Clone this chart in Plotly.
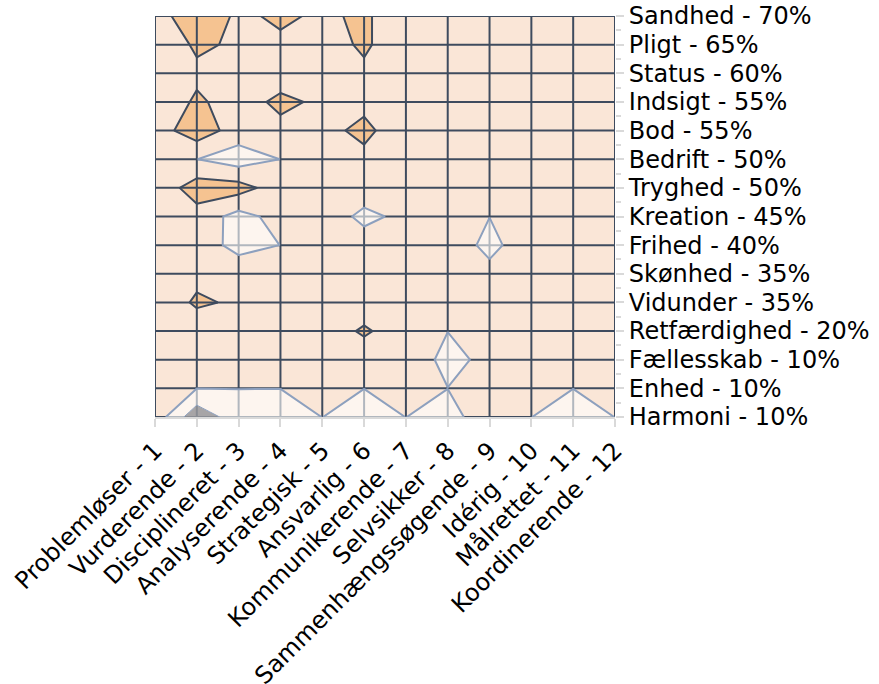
import plotly.graph_objects as go

# Categories (x: roles, y: values shown top -> bottom)
roles = ["Problemløser - 1", "Vurderende - 2", "Disciplineret - 3", "Analyserende - 4",
         "Strategisk - 5", "Ansvarlig - 6", "Kommunikerende - 7", "Selvsikker - 8",
         "Sammenhængssøgende - 9", "Idérig - 10", "Målrettet - 11", "Koordinerende - 12"]
values = ["Sandhed - 70%", "Pligt - 65%", "Status - 60%", "Indsigt - 55%", "Bod - 55%",
          "Bedrift - 50%", "Tryghed - 50%", "Kreation - 45%", "Frihed - 40%",
          "Skønhed - 35%", "Vidunder - 35%", "Retfærdighed - 20%", "Fællesskab - 10%",
          "Enhed - 10%", "Harmoni - 10%"]

# Surface values, one row per value (top -> bottom), one column per role
z = [
    [1.70, 5.00, 2.50, 3.45, 2.59, 3.41, 1.25, 2.00, 2.00, 2.00, 2.00, 2.00],  # Sandhed
    [1.10, 3.40, 2.65, 2.52, 2.15, 3.30, 1.72, 2.00, 2.00, 2.00, 2.00, 2.00],  # Pligt
    [2.00, 2.50, 2.00, 1.90, 2.00, 2.63, 2.00, 2.00, 2.00, 2.00, 2.00, 2.00],  # Status
    [1.24, 3.36, 2.00, 3.50, 2.60, 2.27, 2.00, 2.00, 2.00, 2.00, 2.00, 2.00],  # Indsigt
    [2.00, 4.17, 2.04, 2.39, 2.14, 3.70, 1.20, 2.00, 2.00, 2.00, 2.00, 2.00],  # Bod
    [2.00, 1.02, 0.00, 1.02, 2.00, 2.27, 2.00, 2.00, 2.00, 2.00, 2.00, 2.00],  # Bedrift
    [1.56, 4.00, 3.80, 2.00, 2.00, 2.10, 2.00, 2.00, 2.00, 2.00, 2.00, 2.00],  # Tryghed
    [2.00, 2.20, 0.30, 1.70, 2.22, 0.50, 1.50, 2.00, 1.02, 2.00, 2.00, 2.00],  # Kreation
    [2.00, 2.30, 0.20, 1.02, 2.00, 1.93, 2.00, 2.10, 0.50, 2.10, 2.00, 2.00],  # Frihed
    [2.00, 2.44, 2.49, 2.00, 2.00, 2.00, 2.00, 2.00, 1.52, 2.00, 2.00, 2.00],  # Skønhed
    [1.54, 3.30, 2.70, 2.00, 2.00, 2.00, 2.00, 2.00, 2.00, 2.00, 2.00, 2.00],  # Vidunder
    [2.00, 1.80, 2.00, 2.00, 2.00, 3.25, 2.00, 1.02, 2.00, 2.00, 2.00, 2.00],  # Retfærdighed
    [2.00, 2.00, 2.00, 2.00, 2.00, 2.00, 2.10, 0.50, 1.44, 2.00, 2.00, 2.00],  # Fællesskab
    [2.00, 1.02, 1.02, 1.02, 2.00, 1.02, 2.00, 1.02, 2.00, 2.00, 1.02, 2.00],  # Enhed
    [2.05, -2.00, 0.29, 0.00, 1.02, 0.00, 1.02, 0.00, 2.60, 1.02, 0.00, 1.02],  # Harmoni
]

# Band limits
high_level = 3.0
low_level = 1.0
lowest_level = -0.75

PEACH = "#FAE6D7"
ORANGE = "#F5C391"
DARK = "#3E4B5E"
LIGHT = "#8DA0BE"
TICK = "#D9D9D9"
FONT = "Verdana, DejaVu Sans, sans-serif"

nx, ny = len(roles), len(values)
xs = list(range(nx))
# first listed value sits at the top
ys = [ny - 1 - i for i in range(ny)]

fig = go.Figure()

# Constraint contours shade the region that does NOT satisfy the constraint,
# so "<" shades z > value and ">" shades z < value.

# high band (opaque, below the grid)
fig.add_trace(go.Contour(
    z=z, x=xs, y=ys,
    contours=dict(type="constraint", operation="<", value=high_level),
    fillcolor=ORANGE, line=dict(color=DARK, width=2, smoothing=0),
    showscale=False, hoverinfo="skip", xaxis="x", yaxis="y"))

# grid
gx, gy = [], []
for i in xs:
    gx += [i, i, None]
    gy += [0, ny - 1, None]
for j in range(ny):
    gx += [0, nx - 1, None]
    gy += [j, j, None]
fig.add_trace(go.Scatter(x=gx, y=gy, mode="lines", line=dict(color=DARK, width=2),
                         hoverinfo="skip", showlegend=False, cliponaxis=False,
                         xaxis="x", yaxis="y"))

# low bands (translucent, above the grid)
fig.add_trace(go.Contour(
    z=z, x=xs, y=ys,
    contours=dict(type="constraint", operation=">", value=low_level),
    fillcolor="rgba(255,255,255,0.6)", line=dict(color=LIGHT, width=2, smoothing=0),
    showscale=False, hoverinfo="skip", xaxis="x2", yaxis="y2"))
fig.add_trace(go.Contour(
    z=z, x=xs, y=ys,
    contours=dict(type="constraint", operation=">", value=lowest_level),
    fillcolor="rgba(110,112,118,0.6)", line=dict(color=LIGHT, width=1, smoothing=0),
    showscale=False, hoverinfo="skip", xaxis="x2", yaxis="y2"))

fig.update_layout(
    template="none",
    width=879, height=684,
    margin=dict(l=155, r=264, t=16, b=267),
    paper_bgcolor="white", plot_bgcolor=PEACH,
    showlegend=False,
    font=dict(family=FONT, size=24, color="black"),
    xaxis=dict(range=[0, nx - 1], tickmode="array", tickvals=xs, ticktext=roles,
               tickangle=-45, ticks="outside", ticklen=8, tickwidth=2, tickcolor=TICK,
               ticklabeloverflow="allow",
               showgrid=False, zeroline=False, showline=True, linecolor=TICK, linewidth=2,
               layer="below traces", tickfont=dict(size=24)),
    yaxis=dict(range=[0, ny - 1], side="right", tickmode="array",
               tickvals=ys, ticktext=values, ticklabeloverflow="allow",
               ticks="outside", ticklen=8, tickwidth=2, tickcolor=TICK,
               minor=dict(tickmode="array", tickvals=[j + 0.5 for j in range(ny - 1)],
                          ticks="outside", ticklen=5, tickwidth=2, tickcolor=TICK,
                          showgrid=False),
               showgrid=False, zeroline=False, showline=False, tickfont=dict(size=24)),
    xaxis2=dict(overlaying="x", range=[0, nx - 1], visible=False),
    yaxis2=dict(overlaying="y", range=[0, ny - 1], visible=False),
)

fig.write_html("out.html", config={"displayModeBar": False},
               post_script="document.body.style.margin='0';")
